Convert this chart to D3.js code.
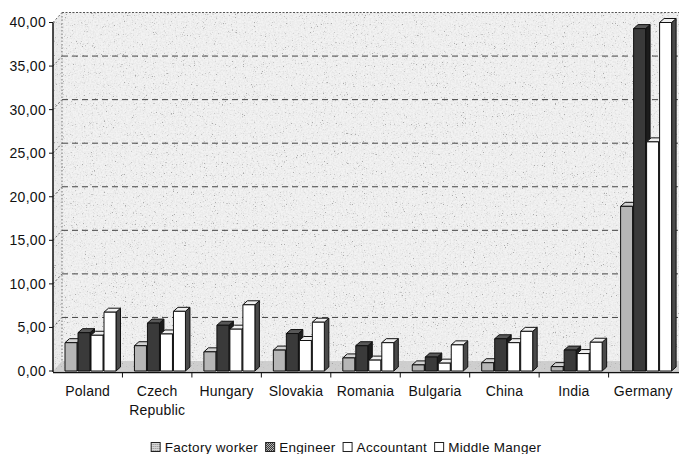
<!DOCTYPE html>
<html>
<head>
<meta charset="utf-8">
<script src="https://cdn.jsdelivr.net/npm/d3@7"></script>
<style>
  body { margin: 0; background: #fff; }
  svg { display: block; }
  text { font-family: "Liberation Sans", Arial, sans-serif; fill: #111; }
</style>
</head>
<body>
<svg id="chart" width="679" height="454"></svg>
<script>
// Monthly pay by country and occupation
const categories = ["Poland", "Czech Republic", "Hungary", "Slovakia", "Romania", "Bulgaria", "China", "India", "Germany"];
const seriesNames = ["Factory worker", "Engineer", "Accountant", "Middle Manger"];
const factoryWorker = [3.25, 2.9, 2.2, 2.4, 1.5, 0.7, 0.95, 0.5, 18.9];
const engineer      = [4.4, 5.5, 5.25, 4.3, 2.9, 1.6, 3.7, 2.4, 39.3];
const accountant    = [4.1, 4.25, 4.8, 3.5, 1.25, 0.9, 3.25, 2.0, 26.3];
const middleManger  = [6.75, 6.85, 7.6, 5.6, 3.25, 3.0, 4.55, 3.3, 40.0];
const yTicks = [0, 5, 10, 15, 20, 25, 30, 35, 40];

const seriesValues = [factoryWorker, engineer, accountant, middleManger];

// face colours per series: front, side, top
const faceColors = [
  { front: "#b6b6b6", side: "#7c7c7c", top: "#d2d2d2" },
  { front: "#3a3a3a", side: "#1c1c1c", top: "#585858" },
  { front: "#ffffff", side: "#4a4a4a", top: "#efefef" },
  { front: "#ffffff", side: "#4a4a4a", top: "#efefef" }
];

const svg = d3.select("#chart");
const fmt = v => d3.format(".2f")(v).replace(".", ",");

// 3D projection offsets
const wallDx = 9, wallDy = 10;   // back wall depth
const barDx = 4.5, barDy = 4;    // column depth
const axisLeft = 53, plotRight = 679;

const y = d3.scaleLinear().domain([0, 40]).range([371, 22.5]);
const x = d3.scaleBand().domain(categories).range([axisLeft, axisLeft + 9 * 69.45]).padding(0);
const xInner = d3.scaleBand().domain(seriesNames).range([12, 64]).padding(0);
const barW = 12;

// ---- textures
const defs = svg.append("defs");
const speckle = defs.append("filter").attr("id", "speckle")
  .attr("x", 0).attr("y", 0).attr("width", "100%").attr("height", "100%");
speckle.append("feTurbulence").attr("type", "fractalNoise")
  .attr("baseFrequency", 0.9).attr("numOctaves", 2).attr("seed", 11);
speckle.append("feColorMatrix").attr("type", "matrix")
  .attr("values", "0 0 0 0 0.3  0 0 0 0 0.3  0 0 0 0 0.3  2.4 0 0 0 -1.05");
const ct = speckle.append("feComponentTransfer");
ct.append("feFuncA").attr("type", "discrete").attr("tableValues", "0 0 0 0 0.06 0.2 0.45 0.75");

const mottle = defs.append("filter").attr("id", "mottle")
  .attr("x", 0).attr("y", 0).attr("width", "100%").attr("height", "100%");
mottle.append("feTurbulence").attr("type", "fractalNoise")
  .attr("baseFrequency", 0.6).attr("numOctaves", 1).attr("seed", 4);
mottle.append("feColorMatrix").attr("type", "matrix")
  .attr("values", "0 0 0 0 0.55  0 0 0 0 0.55  0 0 0 0 0.55  0.7 0 0 0 -0.28");

// ---- walls
const yTopWall = y(40) - wallDy, yFloorBack = y(0) - wallDy;
const walls = svg.append("g");
const backPath = `M${axisLeft + wallDx},${yTopWall}H${plotRight}V${yFloorBack}H${axisLeft + wallDx}Z`;
const sidePath = `M${axisLeft},${y(0)}V${y(40)}L${axisLeft + wallDx},${yTopWall}V${yFloorBack}Z`;
const floorPath = `M${axisLeft},${y(0)}L${axisLeft + wallDx},${yFloorBack}H${plotRight}V${y(0)}Z`;

walls.append("path").attr("d", backPath).attr("fill", "#f2f2f2");
walls.append("path").attr("d", sidePath).attr("fill", "#ececec");
walls.append("path").attr("d", floorPath).attr("fill", "#cfcfcf");

const clip = defs.append("clipPath").attr("id", "wallClip");
clip.append("path").attr("d", backPath);
clip.append("path").attr("d", sidePath);
clip.append("path").attr("d", floorPath);

walls.append("rect").attr("clip-path", "url(#wallClip)")
  .attr("x", axisLeft).attr("y", yTopWall).attr("width", plotRight - axisLeft).attr("height", y(0) - yTopWall)
  .attr("filter", "url(#mottle)");
walls.append("rect").attr("clip-path", "url(#wallClip)")
  .attr("x", axisLeft).attr("y", yTopWall).attr("width", plotRight - axisLeft).attr("height", y(0) - yTopWall)
  .attr("filter", "url(#speckle)");

// top border and back-wall edge (dotted)
walls.append("line").attr("x1", axisLeft + wallDx).attr("x2", plotRight)
  .attr("y1", yTopWall).attr("y2", yTopWall)
  .attr("stroke", "#555").attr("stroke-width", 1).attr("stroke-dasharray", "2,1.5");
walls.append("line").attr("x1", axisLeft + wallDx).attr("x2", axisLeft + wallDx)
  .attr("y1", yTopWall).attr("y2", yFloorBack)
  .attr("stroke", "#777").attr("stroke-width", 1).attr("stroke-dasharray", "1.5,2");

// gridlines on the back wall
walls.selectAll(".grid").data(yTicks.filter(v => v > 0 && v < 40)).join("line")
  .attr("x1", axisLeft + wallDx).attr("x2", plotRight)
  .attr("y1", d => y(d) - wallDy).attr("y2", d => y(d) - wallDy)
  .attr("stroke", "#444").attr("stroke-width", 1).attr("stroke-dasharray", "6,4");
// gridline continuation across the side wall
walls.selectAll(".sidegrid").data(yTicks.filter(v => v > 0)).join("line")
  .attr("x1", axisLeft).attr("x2", axisLeft + wallDx)
  .attr("y1", d => y(d)).attr("y2", d => y(d) - wallDy)
  .attr("stroke", "#666").attr("stroke-width", 1).attr("stroke-dasharray", "2,2");

// ---- columns (drawn left to right so each front face covers the previous side face)
const bars = svg.append("g");
categories.forEach((cat, i) => {
  seriesNames.forEach((s, j) => {
    const v = seriesValues[j][i];
    const x0 = x(cat) + xInner(s), x1 = x0 + barW;
    const yt = y(v), yb = y(0);
    const c = faceColors[j];
    const g = bars.append("g").attr("stroke", "#111").attr("stroke-width", 1).attr("stroke-linejoin", "round");
    g.append("path")
      .attr("d", `M${x1},${yt}L${x1 + barDx},${yt - barDy}V${yb - barDy}L${x1},${yb}Z`)
      .attr("fill", c.side);
    g.append("path")
      .attr("d", `M${x0},${yt}L${x0 + barDx},${yt - barDy}H${x1 + barDx}L${x1},${yt}Z`)
      .attr("fill", c.top);
    g.append("rect").attr("x", x0).attr("y", yt).attr("width", barW).attr("height", yb - yt)
      .attr("fill", c.front);
  });
});

// ---- value axis
const axisG = svg.append("g");
axisG.append("line").attr("x1", axisLeft).attr("x2", axisLeft).attr("y1", y(0) + 1).attr("y2", y(40))
  .attr("stroke", "#111").attr("stroke-width", 1.5);
axisG.selectAll(".ytick").data(yTicks).join("line")
  .attr("x1", axisLeft - 4).attr("x2", axisLeft).attr("y1", d => y(d)).attr("y2", d => y(d))
  .attr("stroke", "#111").attr("stroke-width", 1);
axisG.selectAll(".ylab").data(yTicks).join("text")
  .attr("x", axisLeft - 7).attr("y", d => y(d)).attr("dy", "0.35em")
  .attr("text-anchor", "end").attr("font-size", 14).attr("letter-spacing", 0.3)
  .text(d => fmt(d));

// ---- category axis
const xAxisY = y(0) + 1.5;
axisG.append("line").attr("x1", axisLeft).attr("x2", plotRight).attr("y1", xAxisY).attr("y2", xAxisY)
  .attr("stroke", "#111").attr("stroke-width", 1.5);
axisG.selectAll(".xtick").data(categories.slice(1)).join("line")
  .attr("x1", d => x(d)).attr("x2", d => x(d)).attr("y1", xAxisY).attr("y2", xAxisY + 5)
  .attr("stroke", "#111").attr("stroke-width", 1);
const xl = axisG.selectAll(".xlab").data(categories).join("text")
  .attr("x", d => x(d) + x.bandwidth() / 2).attr("y", 396)
  .attr("text-anchor", "middle").attr("font-size", 14).attr("letter-spacing", 0.2);
xl.each(function (d) {
  const parts = d.split(" ");
  const t = d3.select(this);
  parts.forEach((p, k) => {
    t.append("tspan").attr("x", x(d) + x.bandwidth() / 2).attr("dy", k === 0 ? 0 : 18.5).text(p);
  });
});

// ---- legend
const pat1 = defs.append("pattern").attr("id", "swFactory").attr("width", 2).attr("height", 2)
  .attr("patternUnits", "userSpaceOnUse");
pat1.append("rect").attr("width", 2).attr("height", 2).attr("fill", "#d8d8d8");
pat1.append("rect").attr("width", 1).attr("height", 1).attr("fill", "#888");
const pat2 = defs.append("pattern").attr("id", "swEngineer").attr("width", 2).attr("height", 2)
  .attr("patternUnits", "userSpaceOnUse");
pat2.append("rect").attr("width", 2).attr("height", 2).attr("fill", "#ccc");
pat2.append("rect").attr("width", 1).attr("height", 1).attr("fill", "#222");
pat2.append("rect").attr("x", 1).attr("y", 1).attr("width", 1).attr("height", 1).attr("fill", "#222");
const swatchFill = ["url(#swFactory)", "url(#swEngineer)", "#fff", "#fff"];

const legend = svg.append("g");
let lx = 0;
seriesNames.forEach((s, j) => {
  const item = legend.append("g").attr("transform", `translate(${lx},0)`);
  item.append("rect").attr("x", 0.5).attr("y", -9.5).attr("width", 9).attr("height", 9)
    .attr("fill", swatchFill[j]).attr("stroke", "#222").attr("stroke-width", 1);
  const t = item.append("text").attr("x", 14).attr("y", 0).attr("font-size", 13.5)
    .attr("letter-spacing", 0.3).text(s);
  lx += 14 + t.node().getComputedTextLength() + 7;
});
const legendW = lx - 7;
legend.attr("transform", `translate(${346 - legendW / 2},452)`);
</script>
</body>
</html>
